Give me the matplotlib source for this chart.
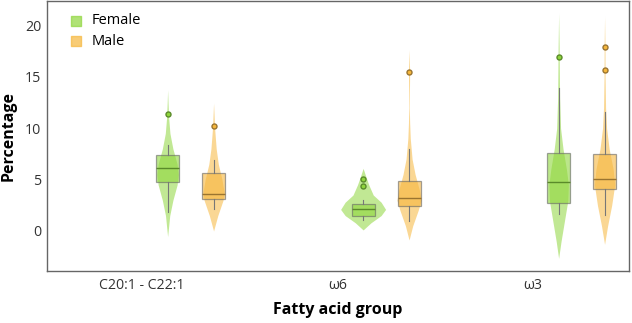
import matplotlib
matplotlib.use("Agg")
import matplotlib.pyplot as plt
import numpy as np

plt.rcParams['font.family'] = ['Open Sans', 'DejaVu Sans']

groups = ["C20:1 - C22:1", "ω6", "ω3"]
sexes = ["Female", "Male"]

# box stats per sex, one entry per group: q1, median, q3, whisker low, whisker high
female_q1 = [4.75, 1.5, 2.76]
female_med = [6.18, 2.1, 4.75]
female_q3 = [7.38, 2.63, 7.64]
female_lo = [1.82, 1.07, 1.63]
female_hi = [8.4, 3.0, 13.9]
female_out = [[11.38], [4.42, 5.07], [16.9]]

male_q1 = [3.12, 2.47, 4.1]
male_med = [3.58, 3.19, 5.04]
male_q3 = [5.63, 4.88, 7.45]
male_lo = [2.1, 1.0, 1.56]
male_hi = [6.93, 7.97, 11.54]
male_out = [[10.27], [15.5], [15.7, 17.95]]

# violin outlines: value levels and relative density at each level
female_vy = [
    [-0.55, 1.5, 3.0, 4.5, 5.5, 6.5, 8.0, 9.5, 11.0, 12.5, 13.75],
    [0.1, 0.8, 1.5, 2.1, 2.8, 3.5, 4.5, 5.3, 6.1],
    [-2.67, -1.0, 1.0, 3.0, 4.5, 6.0, 8.0, 10.0, 13.0, 16.0, 18.0, 21.2],
]
female_vd = [
    [0.0, 0.2, 0.5, 0.9, 1.0, 0.9, 0.5, 0.22, 0.1, 0.04, 0.0],
    [0.0, 0.35, 0.8, 1.0, 0.8, 0.45, 0.25, 0.12, 0.0],
    [0.0, 0.25, 0.6, 0.95, 1.0, 0.8, 0.45, 0.2, 0.1, 0.07, 0.05, 0.0],
]
male_vy = [
    [0.0, 1.5, 3.0, 3.8, 5.0, 6.5, 8.0, 10.0, 11.5, 12.45],
    [-0.88, 0.5, 2.0, 3.0, 4.0, 5.5, 7.0, 9.0, 10.5, 12.0, 13.5, 15.5, 17.66],
    [-1.3, 0.5, 2.5, 4.5, 6.0, 8.0, 10.0, 12.0, 15.0, 18.0, 20.9],
]
male_vd = [
    [0.0, 0.4, 0.9, 1.0, 0.8, 0.45, 0.25, 0.1, 0.04, 0.0],
    [0.0, 0.3, 0.75, 1.0, 0.85, 0.5, 0.25, 0.1, 0.05, 0.02, 0.03, 0.05, 0.0],
    [0.0, 0.3, 0.7, 1.0, 0.85, 0.45, 0.2, 0.1, 0.05, 0.04, 0.0],
]

colors = {"Female": "#8fd63c", "Male": "#f6b73c"}
edge = {"Female": "#5a8a2a", "Male": "#9a7430"}
offsets = {"Female": 0.13, "Male": 0.365}
vwidth = [[0.054, 0.115, 0.05], [0.054, 0.062, 0.052]]

fig = plt.figure(figsize=(6.32, 3.23), dpi=100)
ax = fig.add_axes([47 / 632, 52 / 323, 582 / 632, 270 / 323])

data = {
    "Female": (female_q1, female_med, female_q3, female_lo, female_hi, female_out, female_vy, female_vd),
    "Male": (male_q1, male_med, male_q3, male_lo, male_hi, male_out, male_vy, male_vd),
}

for si, sex in enumerate(sexes):
    q1, med, q3, lo, hi, out, vy, vd = data[sex]
    pos = np.arange(len(groups)) + offsets[sex]
    for gi in range(len(groups)):
        y = np.array(vy[gi])
        w = np.array(vd[gi]) * vwidth[si][gi]
        ax.fill_betweenx(y, pos[gi] - w, pos[gi] + w, color=colors[sex],
                         alpha=0.55, lw=0, zorder=1)
    stats = [dict(q1=q1[i], med=med[i], q3=q3[i], whislo=lo[i], whishi=hi[i],
                  fliers=out[i]) for i in range(len(groups))]
    ax.bxp(stats, positions=pos, widths=0.118, patch_artist=True, showcaps=False,
           boxprops=dict(facecolor=colors[sex], alpha=0.6, edgecolor="#666666", lw=0.9),
           medianprops=dict(color=edge[sex], lw=1.0),
           whiskerprops=dict(color="#777777", lw=0.8),
           flierprops=dict(marker="o", markersize=3.6, markerfacecolor=colors[sex],
                           markeredgecolor=edge[sex], markeredgewidth=1.0),
           manage_ticks=False, zorder=2)
    ax.scatter([], [], marker="s", s=55, color=colors[sex], alpha=0.7, label=sex)

ax.set_xlim(-0.487, 2.49)
ax.set_ylim(-3.9, 22.4)
ax.set_xticks(range(len(groups)))
ax.set_xticklabels(groups)
ax.set_yticks([0, 5, 10, 15, 20])
ax.tick_params(length=0, labelsize=10.2, colors="#333333")
ax.tick_params(axis="x", pad=5)
ax.tick_params(axis="y", pad=4)
for s in ax.spines.values():
    s.set_color("#666666")
    s.set_linewidth(1.0)
ax.set_xlabel("Fatty acid group", fontsize=11.5, fontweight="bold", va="center")
ax.set_ylabel("Percentage", fontsize=11.5, fontweight="bold", va="center")
ax.xaxis.set_label_coords(0.5, -0.144)
ax.yaxis.set_label_coords(-0.066, 0.5)
ax.legend(loc="upper left", frameon=False, fontsize=10.5, handletextpad=0.05,
          borderaxespad=0.45, labelspacing=0.4, bbox_to_anchor=(0.004, 1.0))

fig.savefig("out.png", dpi=100)
